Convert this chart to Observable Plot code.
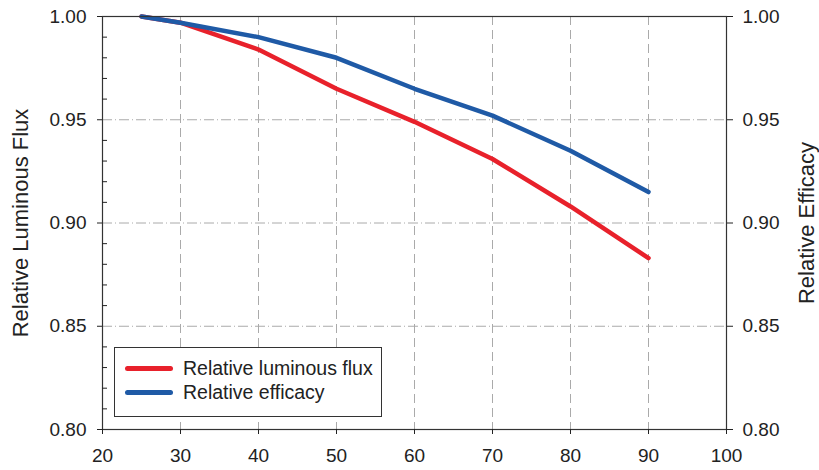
<!DOCTYPE html>
<html><head><meta charset="utf-8">
<script src="https://cdn.jsdelivr.net/npm/d3@7"></script>
<script src="https://cdn.jsdelivr.net/npm/@observablehq/plot@0.6"></script>
<style>
body{margin:0;background:#fff;}
#wrap{position:relative;width:819px;height:470px;font-family:"Liberation Sans",Arial,sans-serif;color:#222;}
#legend{position:absolute;left:114px;top:347px;width:268px;height:70px;border:1px solid #333;background:#fff;box-sizing:border-box;}
.item{position:absolute;left:10px;height:24px;display:flex;align-items:center;font-size:19.5px;white-space:nowrap;}
.sw{width:48px;height:5px;border-radius:3px;margin-right:10px;}
g[aria-label="y-axis label"], g[aria-label="y-axis label"] text{font-size:22px !important;}
</style>
</head><body>
<div id="wrap"></div>
<script>
const temps = [25, 30, 40, 50, 60, 70, 80, 90];
const fluxValues = [1.000, 0.997, 0.984, 0.965, 0.949, 0.931, 0.908, 0.883];
const efficacyValues = [1.000, 0.997, 0.990, 0.980, 0.965, 0.952, 0.935, 0.915];
const xTicks = [20, 30, 40, 50, 60, 70, 80, 90, 100];
const xGrid = [30, 40, 50, 60, 70, 80, 90];
const yTicks = [0.80, 0.85, 0.90, 0.95, 1.00];
const yGrid = [0.85, 0.90, 0.95];
const yMinorTicks = [0.81,0.82,0.83,0.84,0.86,0.87,0.88,0.89,0.91,0.92,0.93,0.94,0.96,0.97,0.98,0.99];
const seriesNames = ["Relative luminous flux", "Relative efficacy"];
const seriesColors = ["#e8212b", "#1f5aa6"];

const fluxData = temps.map((t, i) => ({t, v: fluxValues[i]}));
const effData = temps.map((t, i) => ({t, v: efficacyValues[i]}));

const chart = Plot.plot({
  width: 819, height: 470,
  marginLeft: 102, marginRight: 93, marginTop: 16, marginBottom: 41,
  x: {domain: [20, 100]},
  y: {domain: [0.8, 1.0]},
  style: {fontSize: "19px", fontFamily: "'Liberation Sans', Arial, sans-serif", color: "#222", background: "#fff", overflow: "visible"},
  marks: [
    Plot.ruleX(xGrid, {stroke: "#aaa", strokeDasharray: "9,5"}),
    Plot.ruleY(yGrid, {stroke: "#aaa", strokeDasharray: "10,3,1,3"}),
    Plot.line(fluxData, {x: "t", y: "v", stroke: seriesColors[0], strokeWidth: 4.5, strokeLinecap: "round", strokeLinejoin: "round"}),
    Plot.line(effData, {x: "t", y: "v", stroke: seriesColors[1], strokeWidth: 4.5, strokeLinecap: "round", strokeLinejoin: "round"}),
    Plot.frame({stroke: "#333", strokeWidth: 1.2}),
    Plot.axisX({ticks: xTicks, tickSize: 5, tickPadding: 14, label: null, tickFormat: d3.format("d")}),
    Plot.axisY({anchor: "left", ticks: yTicks, tickFormat: d3.format(".2f"), tickSize: 5, tickPadding: 11,
      label: "Relative Luminous Flux", labelAnchor: "center", labelArrow: "none", labelOffset: 90}),
    Plot.axisY(yMinorTicks, {anchor: "left", tickSize: 5, dx: 5, tickFormat: () => "", label: null}),
    Plot.axisY({anchor: "right", ticks: yTicks, tickFormat: d3.format(".2f"), tickSize: 6, tickPadding: 10,
      label: "Relative Efficacy", labelAnchor: "center", labelArrow: "none", labelOffset: 87})
  ]
});
const wrap = document.getElementById("wrap");
wrap.appendChild(chart);

const legend = document.createElement("div");
legend.id = "legend";
seriesNames.forEach((name, i) => {
  const item = document.createElement("div");
  item.className = "item";
  item.style.top = (8 + i * 24) + "px";
  const sw = document.createElement("div");
  sw.className = "sw";
  sw.style.background = seriesColors[i];
  const label = document.createElement("span");
  label.textContent = name;
  item.appendChild(sw);
  item.appendChild(label);
  legend.appendChild(item);
});
wrap.appendChild(legend);
</script>
</body></html>
